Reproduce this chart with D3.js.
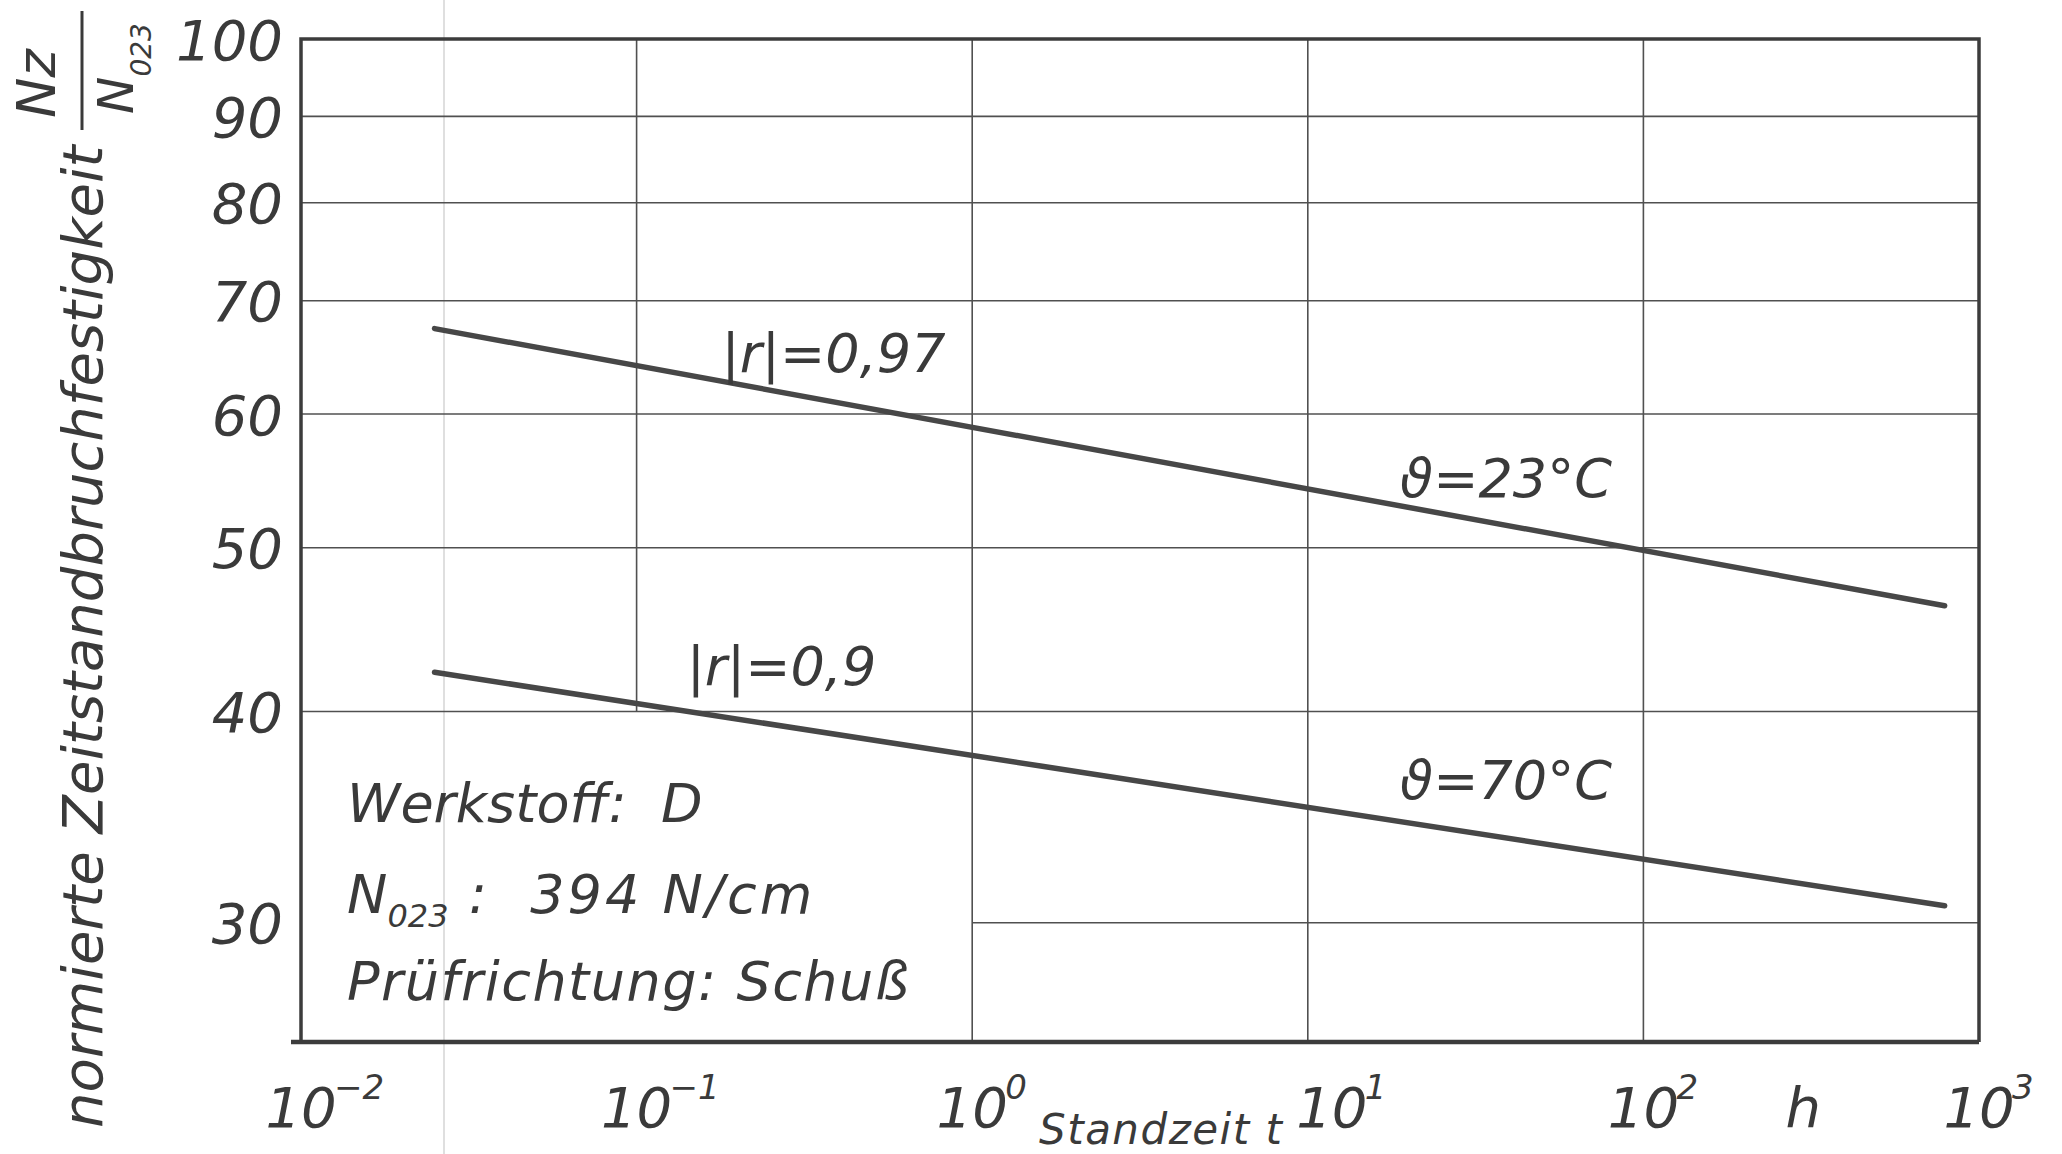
<!DOCTYPE html>
<html lang="de">
<head>
<meta charset="UTF-8">
<title>Zeitstandbruchfestigkeit</title>
<script src="https://d3js.org/d3.v7.min.js"></script>
<style>
    body { margin: 0; background: #fff; }
    text { font-family: "DejaVu Sans", "Liberation Sans", sans-serif; font-style: italic; fill: #3a3a3a; }
</style>
</head>
<body>
<script>
    // Data (log-log plot)
    let standzeit = [0.025, 790];        // h
    let nz23 = [67.4, 46.2];             // theta = 23 C
    let nz70 = [42.2, 30.7];             // theta = 70 C

    let xExponents = [-2, -1, 0, 1, 2, 3];
    let yTicks = [30, 40, 50, 60, 70, 80, 90, 100];

    let curveLabels = [
        {text: "|r|=0,97", t: 0.179, v: 63.5},
        {text: "\u03D1=23\u00B0C", t: 18.8, v: 53.6},
        {text: "|r|=0,9", t: 0.141, v: 41.5},
        {text: "\u03D1=70\u00B0C", t: 18.8, v: 35.5}
    ];

    let width = 2062;
    let height = 1154;
    let margin = {top: 39, right: 83, bottom: 112, left: 301};

    let svg = d3.select("body").append("svg")
        .attr("width", width)
        .attr("height", height);

    let x = d3.scaleLog()
        .domain([0.01, 1000])
        .range([margin.left, width - margin.right]);

    let y = d3.scaleLog()
        .domain([25.5, 100])
        .range([height - margin.bottom, margin.top]);

    let xTicks = xExponents.map(e => Math.pow(10, e));

    // faint fold line of the scanned sheet
    svg.append("line")
        .attr("x1", 444).attr("x2", 444)
        .attr("y1", 0).attr("y2", height)
        .attr("stroke", "#d4d4d4")
        .attr("stroke-width", 1.5);

    // horizontal grid (30 line only right of 10^0, box text sits left of it)
    svg.append("g")
        .selectAll("line")
        .data(yTicks.filter(d => d < 100))
        .enter().append("line")
        .attr("x1", d => d === 30 ? x(1) : x(0.01))
        .attr("x2", x(1000))
        .attr("y1", d => y(d))
        .attr("y2", d => y(d))
        .attr("stroke", "#505050")
        .attr("stroke-width", 1.6);

    // vertical grid (10^-1 stops at the 40 line)
    svg.append("g")
        .selectAll("line")
        .data(xTicks.filter(d => d > 0.01 && d < 1000))
        .enter().append("line")
        .attr("x1", d => x(d))
        .attr("x2", d => x(d))
        .attr("y1", y(100))
        .attr("y2", d => d === 0.1 ? y(40) : y.range()[0])
        .attr("stroke", "#505050")
        .attr("stroke-width", 1.6);

    // frame
    svg.append("path")
        .attr("d", `M${x(0.01)},${y.range()[0]} V${y(100)} H${x(1000)} V${y.range()[0]}`)
        .attr("fill", "none")
        .attr("stroke", "#3c3c3c")
        .attr("stroke-width", 3.5);

    svg.append("line")
        .attr("x1", x(0.01) - 10)
        .attr("x2", x(1000))
        .attr("y1", y.range()[0])
        .attr("y2", y.range()[0])
        .attr("stroke", "#3c3c3c")
        .attr("stroke-width", 4.5);

    // y tick labels
    let yAxis = svg.append("g")
        .attr("transform", `translate(${margin.left},0)`)
        .call(d3.axisLeft(y).tickValues(yTicks).tickSize(0).tickPadding(18).tickFormat(d3.format("d")));
    yAxis.select(".domain").remove();
    yAxis.selectAll("text")
        .attr("font-size", 56)
        .attr("font-family", null)
        .attr("fill", null)
        .attr("dy", "0.36em");

    // x tick labels: 10 with superscript exponent
    let xLab = svg.append("g")
        .selectAll("g")
        .data(xExponents)
        .enter().append("g")
        .attr("transform", d => `translate(${x(Math.pow(10, d)) + (d === 1 ? 24 : 0)},${height - 27})`);
    xLab.append("text")
        .attr("text-anchor", "middle")
        .attr("font-size", 56)
        .text("10");
    xLab.append("text")
        .attr("x", 33)
        .attr("y", -28)
        .attr("font-size", 34)
        .text(d => d < 0 ? "\u2212" + Math.abs(d) : d);

    svg.append("text")
        .attr("x", 1039)
        .attr("y", 1144)
        .attr("font-size", 42)
        .attr("letter-spacing", 1.5)
        .text("Standzeit t");

    svg.append("text")
        .attr("x", x(100) + 142)
        .attr("y", height - 27)
        .attr("font-size", 56)
        .text("h");

    // y axis title with fraction
    let yt = svg.append("g").attr("transform", "rotate(-90)");
    yt.append("text")
        .attr("x", -1128)
        .attr("y", 102)
        .attr("font-size", 56)
        .text("normierte Zeitstandbruchfestigkeit");
    yt.append("line")
        .attr("x1", -130).attr("x2", -11)
        .attr("y1", 82).attr("y2", 82)
        .attr("stroke", "#3a3a3a")
        .attr("stroke-width", 3);
    yt.append("text")
        .attr("x", -118)
        .attr("y", 55)
        .attr("font-size", 54)
        .text("Nz");
    let den = yt.append("text")
        .attr("x", -114)
        .attr("y", 133)
        .attr("font-size", 50);
    den.append("tspan").text("N");
    den.append("tspan").attr("font-size", 28).attr("dy", 18).text("023");

    // regression lines
    let line = d3.line()
        .x(d => x(d[0]))
        .y(d => y(d[1]));

    [nz23, nz70].forEach(series => {
        svg.append("path")
            .datum(d3.zip(standzeit, series))
            .attr("d", line)
            .attr("fill", "none")
            .attr("stroke", "#474747")
            .attr("stroke-width", 5.5)
            .attr("stroke-linecap", "round");
    });

    svg.append("g")
        .selectAll("text")
        .data(curveLabels)
        .enter().append("text")
        .attr("x", d => x(d.t))
        .attr("y", d => y(d.v))
        .attr("font-size", 54)
        .text(d => d.text);

    // material info box
    let info = svg.append("g").attr("font-size", 54);
    info.append("text")
        .attr("x", 347).attr("y", 822)
        .attr("xml:space", "preserve")
        .text("Werkstoff:  D");
    let n = info.append("text")
        .attr("x", 347).attr("y", 913)
        .attr("xml:space", "preserve");
    n.append("tspan").text("N");
    n.append("tspan").attr("font-size", 32).attr("dy", 14).text("023");
    n.append("tspan").attr("dy", -14).attr("letter-spacing", 3).text(" :  394 N/cm");
    info.append("text")
        .attr("x", 347).attr("y", 1000)
        .attr("letter-spacing", 1.5)
        .text("Prüfrichtung: Schuß");
</script>
</body>
</html>
